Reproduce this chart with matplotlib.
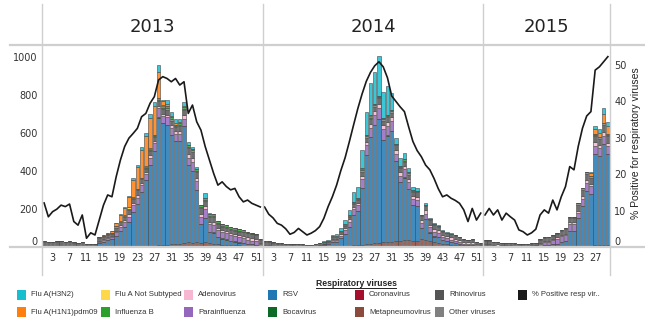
import matplotlib
matplotlib.use('Agg')
import matplotlib.pyplot as plt
from matplotlib.lines import Line2D
from matplotlib.patches import Rectangle
import numpy as np

NARROW = ['Liberation Sans Narrow', 'DejaVu Sans']
plt.rcParams['font.family'] = ['Liberation Sans', 'DejaVu Sans']

# ---------------------------------------------------------------------------
# data: weekly counts per virus, 2013 (52 wk), 2014 (52 wk), 2015 (30 wk)
# ---------------------------------------------------------------------------
years = ['2013', '2014', '2015']
weeks_in_year = [52, 52, 30]
tick_weeks = [list(range(3, 52, 4)), list(range(3, 52, 4)), list(range(3, 28, 4))]

metapneumo = (
    [0, 0, 0, 0, 0, 0, 0, 0, 0, 0, 0, 0, 0, 0, 0, 0, 0, 0, 0, 0, 0, 0, 0, 0, 0, 0,
     5, 10, 10, 12, 15, 15, 18, 20, 25, 22, 25, 20, 25, 20, 18, 15, 12, 10, 10, 8, 8, 6, 5, 4, 3, 2] +
    [0, 0, 0, 0, 0, 0, 0, 0, 0, 0, 0, 0, 0, 0, 0, 0, 0, 0, 0, 0, 5, 8, 10, 12, 15, 18,
     20, 22, 25, 25, 28, 30, 30, 35, 35, 30, 30, 40, 35, 30, 25, 22, 15, 15, 12, 10, 8, 5, 4, 4, 3, 2] +
    [1, 1, 0, 0, 0, 0, 0, 0, 0, 0, 0, 0, 0, 0, 0, 0, 2, 2, 3, 3, 4, 4, 5, 5, 6, 6, 8, 10, 10, 10])
rsv = (
    [2, 1, 1, 1, 2, 1, 1, 1, 1, 2, 1, 2, 2, 20, 28, 35, 40, 60, 85, 105, 130, 185, 225, 290, 350, 430,
     500, 670, 640, 630, 575, 545, 540, 615, 405, 380, 275, 100, 130, 60, 55, 35, 30, 25, 20, 18, 15, 15, 12, 10, 8, 5] +
    [2, 2, 1, 1, 1, 1, 1, 1, 1, 1, 1, 2, 3, 5, 10, 14, 25, 28, 45, 70, 100, 160, 180, 300, 470, 560,
     620, 650, 540, 560, 580, 420, 310, 330, 270, 190, 185, 60, 110, 45, 30, 30, 20, 15, 12, 10, 8, 5, 5, 5, 3, 2] +
    [3, 3, 2, 2, 2, 2, 2, 1, 1, 1, 1, 2, 3, 5, 8, 10, 12, 15, 25, 30, 80, 80, 145, 210, 290, 275, 480, 470, 530, 480])
coronavirus = (
    [0, 0, 0, 0, 0, 0, 0, 0, 0, 0, 0, 0, 0, 0, 0, 0, 0, 0, 0, 0, 0, 0, 0, 0, 0, 0,
     0, 0, 0, 0, 0, 0, 0, 0, 0, 0, 0, 0, 0, 0, 0, 0, 0, 2, 0, 2, 0, 0, 0, 0, 0, 0] +
    [0, 0, 0, 0, 0, 0, 0, 0, 0, 0, 0, 0, 0, 0, 0, 0, 0, 0, 0, 0, 0, 0, 0, 0, 0, 0,
     0, 0, 0, 0, 0, 0, 0, 0, 0, 0, 0, 0, 0, 0, 3, 0, 2, 0, 0, 0, 0, 0, 0, 0, 0, 0] +
    [0, 0, 0, 0, 0, 0, 0, 0, 0, 0, 0, 0, 0, 0, 0, 0, 0, 0, 0, 0, 0, 0, 0, 0, 0, 0, 0, 0, 0, 0])
bocavirus = (
    [0, 0, 0, 0, 0, 0, 0, 0, 0, 0, 0, 0, 0, 0, 0, 0, 0, 0, 0, 0, 0, 0, 0, 0, 0, 0,
     0, 5, 0, 0, 0, 0, 0, 0, 0, 0, 0, 0, 0, 0, 4, 4, 5, 5, 4, 4, 4, 0, 0, 0, 0, 0] +
    [0, 0, 0, 0, 0, 0, 0, 0, 0, 0, 0, 0, 0, 0, 0, 0, 0, 0, 0, 0, 0, 0, 0, 0, 0, 0,
     0, 0, 0, 3, 0, 0, 0, 5, 0, 0, 0, 0, 0, 3, 0, 0, 0, 0, 0, 0, 0, 0, 0, 0, 0, 0] +
    [0, 0, 0, 0, 0, 0, 0, 0, 0, 0, 0, 0, 0, 0, 0, 0, 0, 0, 0, 0, 0, 0, 0, 0, 0, 0, 0, 0, 0, 0])
parainfluenza = (
    [1, 1, 1, 2, 1, 1, 2, 1, 1, 1, 1, 1, 1, 8, 10, 12, 12, 18, 22, 25, 30, 35, 35, 35, 35, 40,
     40, 45, 40, 40, 38, 35, 35, 40, 40, 45, 45, 40, 45, 40, 40, 35, 30, 30, 28, 25, 25, 25, 22, 20, 18, 8] +
    [2, 2, 2, 1, 1, 1, 1, 1, 1, 1, 1, 1, 2, 3, 4, 6, 10, 10, 14, 20, 28, 30, 30, 45, 50, 50,
     55, 60, 55, 50, 55, 40, 35, 40, 35, 30, 30, 25, 30, 25, 20, 20, 15, 15, 14, 12, 10, 8, 8, 8, 5, 3] +
    [5, 5, 4, 4, 3, 3, 3, 3, 3, 3, 3, 4, 5, 12, 16, 18, 22, 25, 28, 30, 35, 35, 30, 40, 40, 38, 45, 40, 45, 40])
adenovirus = (
    [3, 2, 4, 3, 4, 3, 4, 2, 2, 3, 1, 2, 1, 3, 4, 5, 5, 6, 8, 10, 12, 14, 14, 12, 12, 14,
     14, 12, 12, 15, 15, 15, 16, 20, 20, 22, 18, 15, 15, 12, 15, 12, 12, 12, 12, 12, 12, 12, 12, 12, 12, 8] +
    [5, 5, 4, 4, 5, 3, 4, 3, 3, 2, 2, 2, 2, 3, 4, 5, 6, 6, 8, 10, 12, 14, 14, 18, 20, 20,
     22, 22, 20, 22, 22, 20, 18, 18, 18, 18, 18, 15, 18, 15, 15, 15, 12, 12, 12, 10, 10, 8, 8, 10, 6, 4] +
    [8, 8, 6, 8, 5, 4, 4, 3, 2, 2, 2, 2, 3, 5, 6, 6, 6, 8, 8, 8, 10, 10, 12, 14, 15, 15, 18, 16, 18, 16])
rhinovirus = (
    [22, 20, 20, 22, 22, 20, 21, 19, 16, 19, 12, 12, 10, 15, 12, 12, 14, 18, 15, 18, 22, 20, 25, 20, 16, 20,
     20, 25, 25, 25, 22, 20, 28, 25, 30, 32, 30, 30, 25, 25, 25, 22, 18, 18, 17, 17, 17, 19, 21, 20, 23, 14] +
    [18, 17, 15, 12, 11, 10, 10, 9, 9, 8, 7, 7, 8, 8, 7, 6, 9, 8, 10, 12, 15, 15, 14, 22, 20, 25,
     22, 28, 25, 25, 22, 25, 22, 20, 22, 22, 24, 22, 24, 22, 22, 19, 15, 15, 16, 17, 15, 11, 10, 11, 9, 7] +
    [16, 16, 13, 11, 10, 11, 11, 10, 8, 8, 8, 9, 10, 14, 17, 16, 17, 18, 20, 22, 25, 25, 30, 32, 34, 30, 33, 33, 38, 36])
other_viruses = (
    [3, 2, 2, 2, 2, 2, 2, 2, 2, 2, 1, 1, 1, 4, 4, 3, 4, 6, 3, 3, 5, 6, 7, 6, 5, 5,
     5, 5, 7, 8, 7, 6, 7, 5, 7, 7, 6, 8, 5, 5, 5, 5, 4, 4, 4, 4, 4, 4, 4, 4, 4, 3] +
    [3, 3, 3, 2, 2, 2, 2, 2, 2, 2, 1, 1, 1, 2, 2, 2, 3, 3, 4, 5, 5, 5, 5, 7, 7, 8,
     8, 8, 7, 7, 7, 7, 7, 7, 8, 7, 7, 6, 6, 6, 5, 5, 4, 4, 4, 4, 3, 3, 2, 2, 2, 2] +
    [4, 4, 3, 3, 3, 3, 3, 2, 2, 2, 2, 2, 2, 4, 4, 4, 4, 4, 5, 5, 6, 6, 8, 8, 8, 8, 8, 8, 9, 9])
influenza_b = (
    [0, 0, 0, 0, 0, 0, 0, 0, 0, 0, 0, 0, 0, 0, 0, 0, 0, 0, 0, 0, 0, 0, 0, 0, 5, 8,
     8, 10, 10, 10, 10, 8, 8, 10, 12, 10, 10, 8, 12, 10, 10, 10, 10, 12, 12, 10, 8, 8, 5, 5, 0, 0] +
    [0, 0, 0, 0, 0, 0, 0, 0, 0, 0, 0, 0, 0, 0, 0, 0, 0, 0, 0, 0, 0, 4, 4, 5, 5, 6,
     6, 5, 5, 5, 5, 0, 5, 8, 6, 5, 0, 0, 0, 0, 0, 0, 0, 0, 0, 0, 0, 0, 0, 0, 0, 0] +
    [0, 0, 0, 0, 0, 0, 0, 0, 0, 0, 0, 0, 0, 0, 0, 0, 0, 0, 0, 0, 0, 0, 0, 0, 3, 4, 5, 4, 5, 4])
flu_a_not_subtyped = (
    [0, 0, 0, 0, 0, 0, 0, 0, 0, 0, 0, 0, 0, 0, 0, 0, 0, 0, 5, 8, 10, 5, 0, 0, 5, 5,
     0, 0, 5, 0, 0, 0, 0, 0, 0, 0, 0, 0, 0, 0, 0, 0, 0, 0, 0, 0, 0, 0, 0, 0, 0, 0] +
    [0, 0, 0, 0, 0, 0, 0, 0, 0, 0, 0, 0, 0, 0, 0, 0, 4, 4, 5, 5, 4, 0, 0, 5, 5, 8,
     0, 0, 0, 0, 0, 0, 0, 0, 0, 0, 0, 0, 0, 0, 0, 0, 0, 0, 0, 0, 0, 0, 0, 0, 0, 0] +
    [0, 0, 0, 0, 0, 0, 0, 0, 0, 0, 0, 0, 0, 0, 0, 0, 0, 0, 0, 0, 0, 0, 0, 0, 0, 0, 0, 0, 0, 0])
flu_a_h1n1 = (
    [0, 0, 0, 0, 0, 0, 0, 0, 0, 0, 0, 0, 0, 0, 5, 8, 10, 20, 30, 35, 53, 88, 114, 150, 155, 158,
     150, 140, 20, 15, 10, 8, 5, 5, 0, 0, 0, 0, 0, 0, 0, 0, 0, 0, 0, 0, 0, 0, 0, 0, 0, 0] +
    [0, 0, 0, 0, 0, 0, 0, 0, 0, 0, 0, 0, 0, 0, 0, 0, 0, 0, 0, 0, 0, 0, 0, 0, 0, 0,
     0, 0, 0, 0, 0, 0, 0, 0, 0, 0, 0, 0, 0, 0, 0, 0, 0, 0, 0, 0, 0, 0, 0, 0, 0, 0] +
    [0, 0, 0, 0, 0, 0, 0, 0, 0, 0, 0, 0, 0, 0, 0, 0, 0, 0, 0, 0, 0, 0, 0, 0, 0, 12, 22, 18, 45, 40])
flu_a_h3n2 = (
    [0, 0, 0, 0, 0, 0, 0, 0, 0, 0, 0, 0, 0, 0, 0, 0, 0, 0, 5, 8, 8, 12, 12, 15, 15, 18,
     20, 38, 5, 20, 20, 20, 15, 25, 15, 10, 10, 0, 25, 5, 0, 0, 0, 0, 0, 0, 0, 0, 0, 0, 0, 0] +
    [0, 0, 0, 0, 0, 0, 0, 0, 0, 0, 0, 0, 0, 0, 2, 4, 6, 8, 12, 20, 26, 55, 60, 96, 120, 170,
     170, 210, 140, 150, 90, 30, 40, 30, 20, 15, 15, 0, 10, 8, 8, 5, 5, 5, 5, 0, 0, 0, 0, 0, 0, 0] +
    [0, 0, 0, 0, 0, 0, 0, 0, 0, 0, 0, 0, 0, 0, 0, 0, 0, 0, 0, 0, 0, 0, 0, 0, 0, 8, 18, 20, 30, 25])

pct_positive = [
    [12.1, 8.3, 9.7, 10.4, 11.5, 11.1, 11.8, 7.0, 6.0, 8.8, 2.4, 3.9, 3.3, 7.4, 11.5, 14.3, 13.8,
     19.3, 23.9, 27.6, 29.9, 31.2, 32.6, 35.8, 36.7, 39.5, 41.3, 45.9, 46.8, 46.3, 45.4, 46.3,
     44.5, 45.4, 36.7, 39.0, 34.4, 32.1, 27.6, 23.9, 20.2, 17.0, 17.9, 16.6, 15.7, 16.1, 13.8,
     12.4, 12.9, 12.0, 11.5, 11.0],
    [11.0, 9.0, 8.0, 6.5, 6.0, 5.0, 3.5, 4.0, 5.1, 4.2, 3.3, 3.8, 4.5, 5.6, 7.9, 11.1, 13.8,
     17.0, 21.0, 24.5, 28.9, 33.5, 38.0, 42.0, 45.5, 48.0, 49.8, 50.9, 49.5, 46.5, 41.5, 40.0,
     38.5, 37.2, 33.0, 29.0, 26.5, 24.8, 22.5, 21.2, 18.8, 16.0, 13.8, 14.3, 13.4, 12.8, 12.0,
     10.2, 7.0, 10.6, 7.4, 9.3],
    [8.8, 10.6, 8.8, 10.2, 7.4, 9.3, 8.3, 7.4, 4.7, 4.2, 3.3, 3.9, 4.9, 8.8, 10.2, 9.3, 12.9,
     10.2, 13.8, 16.6, 22.1, 21.2, 27.6, 32.6, 36.0, 37.2, 48.6, 49.5, 50.9, 52.3],
]

# stacking order, bottom -> top
stack = [
    ('Metapneumovirus', metapneumo, '#8c4a3c'),
    ('RSV', rsv, '#1f77b4'),
    ('Coronavirus', coronavirus, '#a50f2d'),
    ('Bocavirus', bocavirus, '#0b6a26'),
    ('Parainfluenza', parainfluenza, '#9467bd'),
    ('Adenovirus', adenovirus, '#f7b6d2'),
    ('Rhinovirus', rhinovirus, '#555555'),
    ('Other viruses', other_viruses, '#808080'),
    ('Influenza B', influenza_b, '#2ca02c'),
    ('Flu A Not Subtyped', flu_a_not_subtyped, '#ffd84a'),
    ('Flu A(H1N1)pdm09', flu_a_h1n1, '#ff7f0e'),
    ('Flu A(H3N2)', flu_a_h3n2, '#17becf'),
]
colors = {name: c for name, _, c in stack}

# ---------------------------------------------------------------------------
W, H = 645, 320
fig = plt.figure(figsize=(W / 100, H / 100), dpi=100)


def fx(px):
    return px / W


def fy(py):
    return 1 - py / H


ax = fig.add_axes([fx(42), fy(247), fx(610) - fx(42), fy(45) - fy(247)])
ax2 = ax.twinx()

n = sum(weeks_in_year)
x = np.arange(n)
bottom = np.zeros(n)
for name, vals, col in stack:
    v = np.array(vals, dtype=float)
    ax.bar(x, v, bottom=bottom, width=0.82, color=col, alpha=0.85,
           edgecolor='#4d4d4d', linewidth=0.5, zorder=2)
    bottom += v

# % positive line, one segment per year
start = 0
for nw, pct in zip(weeks_in_year, pct_positive):
    ax2.plot(np.arange(start, start + nw), pct, color='#1a1a1a', lw=1.2, zorder=3)
    start += nw

ax.set_xlim(-0.5, n - 0.5)
ax.set_ylim(0, 1063)
ax2.set_ylim(0, 55.5)
ax.set_yticks([0, 200, 400, 600, 800, 1000])
ax2.set_yticks([0, 10, 20, 30, 40, 50])

# x ticks: week numbers inside every year pane
xt, xl = [], []
start = 0
for nw, tw in zip(weeks_in_year, tick_weeks):
    for w in tw:
        xt.append(start + w - 1)
        xl.append(str(w))
    start += nw
ax.set_xticks(xt)
ax.set_xticklabels(xl)

for a in (ax, ax2):
    for s in a.spines.values():
        s.set_visible(False)
ax.tick_params(axis='both', length=0, labelsize=7, colors='#333333')
ax.tick_params(axis='y', pad=3)
ax.tick_params(axis='x', pad=4)
ax2.tick_params(axis='y', length=0, labelsize=7, colors='#333333', pad=3)
for lab in ax.get_xticklabels() + ax.get_yticklabels() + ax2.get_yticklabels():
    lab.set_family(NARROW)
ax.get_yticklabels()[0].set_va('bottom')
ax2.get_yticklabels()[0].set_va('bottom')

fig.text(fx(636), fy(143), '% Positive for respiratory viruses', rotation=90,
         ha='center', va='center', fontsize=7.5, color='#222222')

# pane frame lines
line_col = '#cfcfcf'
fig.add_artist(Line2D([fx(10), 1], [fy(45), fy(45)], color=line_col, lw=1.6))
fig.add_artist(Line2D([fx(10), 1], [fy(247), fy(247)], color=line_col, lw=1.6))
bounds_px = [42, 263, 483, 610]
for bx in bounds_px:
    fig.add_artist(Line2D([fx(bx), fx(bx)], [fy(4), fy(275)], color=line_col, lw=1.0))

# year headers
for i, yr in enumerate(years):
    cx = (bounds_px[i] + bounds_px[i + 1]) / 2
    fig.text(fx(cx), fy(27), yr, ha='center', va='center', fontsize=13,
             family=NARROW, color='#222222')

# legend
title = fig.text(fx(356), fy(283), 'Respiratory viruses', ha='center', va='center',
                 fontsize=6.2, fontweight='bold', color='#222222')
fig.canvas.draw()
bb = title.get_window_extent()
fig.add_artist(Line2D([bb.x0 / W, bb.x1 / W], [(bb.y0 - 0.5) / H, (bb.y0 - 0.5) / H],
                      color='#222222', lw=0.7))

legend_rows = [
    [(17, 'Flu A(H3N2)'), (101, 'Flu A Not Subtyped'), (184, 'Adenovirus'), (268, 'RSV'),
     (355, 'Coronavirus'), (435, 'Rhinovirus'), (518, '% Positive resp vir..')],
    [(17, 'Flu A(H1N1)pdm09'), (101, 'Influenza B'), (184, 'Parainfluenza'), (268, 'Bocavirus'),
     (355, 'Metapneumovirus'), (435, 'Other viruses')],
]
for row_y, row in zip([295, 312], legend_rows):
    for lx, name in row:
        col = colors.get(name, '#1a1a1a')
        fig.add_artist(Rectangle((fx(lx), fy(row_y + 5)), 9 / W, 10 / H,
                                 facecolor=col, edgecolor='none'))
        fig.text(fx(lx + 14), fy(row_y), name, ha='left', va='center',
                 fontsize=5.6, color='#333333')

fig.savefig('out.png', dpi=100)
